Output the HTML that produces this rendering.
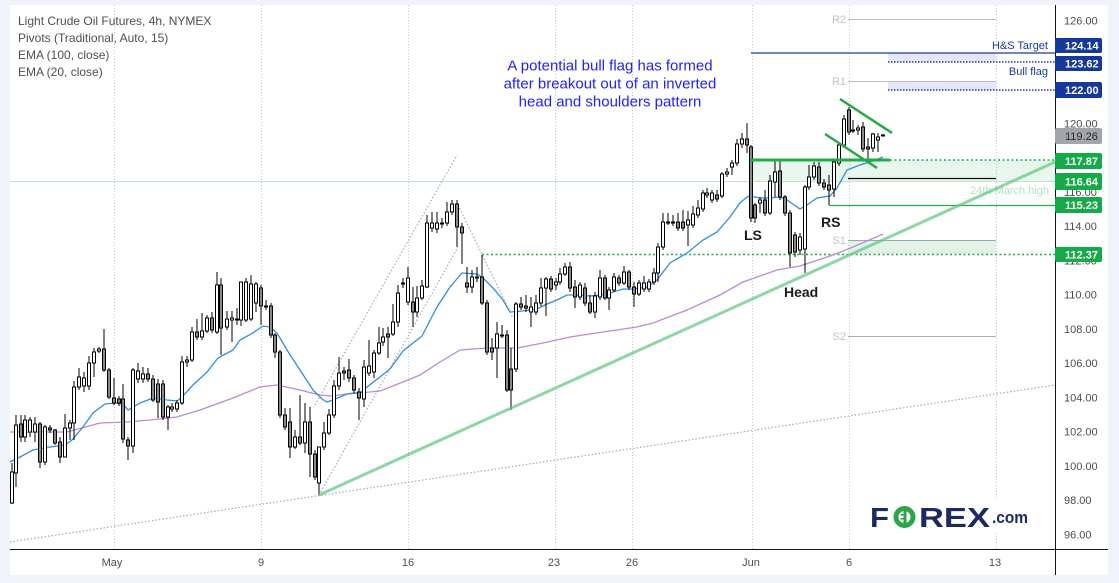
<!DOCTYPE html>
<html><head><meta charset="utf-8"><style>
html,body{margin:0;padding:0;background:#f0f3fa;}
svg{display:block;}
text{font-family:"Liberation Sans",Arial,sans-serif;}
</style></head><body>
<svg width="1119" height="583" viewBox="0 0 1119 583" xmlns="http://www.w3.org/2000/svg">
<rect width="1119" height="583" fill="#f0f3fa"/>
<rect x="10" y="5" width="1098" height="570" fill="#ffffff"/>

<!-- zones -->
<rect x="752" y="160" width="303" height="21" fill="#e9f6ed"/>
<rect x="848" y="240" width="148" height="14" fill="#e0f3e6"/>
<rect x="888" y="53" width="108" height="9" fill="#e4e7f6"/>
<rect x="888" y="81" width="108" height="9" fill="#e4e7f6"/>

<!-- vertical grid -->
<g stroke="#c4c7ce" stroke-width="1" stroke-dasharray="1 2">
<line x1="114.5" y1="5" x2="114.5" y2="549"/>
<line x1="261.5" y1="5" x2="261.5" y2="549"/>
<line x1="408.5" y1="5" x2="408.5" y2="549"/>
<line x1="555.5" y1="5" x2="555.5" y2="549"/>
<line x1="632.5" y1="5" x2="632.5" y2="549"/>
<line x1="752.5" y1="5" x2="752.5" y2="549"/>
<line x1="849.5" y1="5" x2="849.5" y2="549"/>
<line x1="996.5" y1="5" x2="996.5" y2="549"/>
</g>

<!-- 24th March high line -->
<line x1="10" y1="181.5" x2="1055" y2="181.5" stroke="#bfe5cb" stroke-width="1"/>
<text x="1049" y="194" font-size="11" fill="#b6e0c3" text-anchor="end">24th March high</text>

<!-- pivots -->
<g stroke-width="1">
<line x1="848" y1="19.5" x2="996" y2="19.5" stroke="#b8bbc3"/>
<line x1="848" y1="81.5" x2="996" y2="81.5" stroke="#b8bbc3"/>
<line x1="848" y1="240.5" x2="996" y2="240.5" stroke="#98aaa2"/>
<line x1="848" y1="336.5" x2="996" y2="336.5" stroke="#b2aac0"/>
</g>
<g font-size="11" fill="#c0c3cb" text-anchor="end">
<text x="846" y="23">R2</text>
<text x="846" y="85">R1</text>
<text x="846" y="244">S1</text>
<text x="846" y="340">S2</text>
</g>

<!-- navy target lines -->
<line x1="751" y1="53" x2="1055" y2="53" stroke="#1a3a9a" stroke-width="1.3"/>
<line x1="888" y1="62" x2="1055" y2="62" stroke="#1a3a9a" stroke-width="1.5" stroke-dasharray="1.5 1.5"/>
<line x1="888" y1="90" x2="1055" y2="90" stroke="#1a3a9a" stroke-width="1.5" stroke-dasharray="1.5 1.5"/>
<text x="1048" y="49" font-size="11" fill="#1a3a9a" text-anchor="end">H&amp;S Target</text>
<text x="1048" y="75" font-size="11" fill="#1a3a9a" text-anchor="end">Bull flag</text>

<!-- green levels -->
<line x1="890" y1="160" x2="1055" y2="160" stroke="#1fae45" stroke-width="1.5" stroke-dasharray="2 2.5"/>
<line x1="482" y1="254.5" x2="1055" y2="254.5" stroke="#1fae45" stroke-width="1.5" stroke-dasharray="2 2.5"/>
<line x1="829" y1="205.5" x2="1055" y2="205.5" stroke="#1fae45" stroke-width="1.3"/>
<line x1="848" y1="178.5" x2="996" y2="178.5" stroke="#111" stroke-width="1.2"/>

<!-- gray dotted lines -->
<g stroke="#a9a9a9" stroke-width="1.2" stroke-dasharray="1.5 2" fill="none">
<line x1="10" y1="542" x2="1055" y2="385"/>
<line x1="315" y1="405" x2="457" y2="155"/>
<line x1="319" y1="495" x2="458" y2="247"/>
<line x1="458" y1="205" x2="513" y2="318"/>
</g>

<!-- EMAs -->
<polyline fill="none" stroke="#b98ad8" stroke-width="1.3" points="10,432 67,432 100,423 127,422 150,420 177,417 200,410 233,398 260,387 277,385 300,390 320,395 333,396 353,393 370,392 380,391 403,382 420,375 440,362 460,350 487,348 517,348 543,343 570,337 603,332 637,327 653,323 687,310 720,295 743,282 777,270 800,266 833,255 853,247 883,234"/>
<polyline fill="none" stroke="#2e8fe0" stroke-width="1.3" points="10,462 20,457 33,450 50,447 65,445 72,440 83,427 93,413 105,404 115,403 123,404 128,410 140,403 153,398 167,400 177,401 182,397 193,385 207,372 218,358 233,350 240,340 253,333 263,326 270,327 277,333 287,350 300,370 313,390 322,399 327,402 333,400 347,394 360,393 367,387 380,377 390,369 403,351 422,336 437,307 450,287 462,273 477,274 483,278 493,288 503,300 510,312 523,311 537,309 547,304 557,300 567,295 577,295 590,296 600,295 610,293 623,289 633,289 647,287 657,280 670,263 687,253 703,240 717,232 730,217 740,203 747,197 750,196 760,198 770,198 780,197 787,200 800,209 807,205 817,198 830,196 837,188 847,170 860,165 873,161 883,157"/>

<!-- candles -->
<g id="wicks" stroke="#000" stroke-width="1"></g>
<g id="bodies" stroke="#000" stroke-width="1"></g>

<!-- trend line -->
<line x1="319" y1="495" x2="1055" y2="162" stroke="#5ec67e" stroke-opacity="0.7" stroke-width="3"/>

<!-- flag lines -->
<line x1="750" y1="160" x2="890" y2="160" stroke="#1fae45" stroke-width="3"/>
<line x1="840" y1="99" x2="892" y2="133" stroke="#27a844" stroke-width="2.5"/>
<line x1="825" y1="134" x2="877" y2="168" stroke="#27a844" stroke-width="2.5"/>

<!-- pattern labels -->
<g font-size="14" font-weight="bold" fill="#1a1a1a">
<text x="744" y="240">LS</text>
<text x="784" y="297">Head</text>
<text x="821" y="227">RS</text>
</g>

<!-- annotation -->
<g font-size="15" fill="#1f1fff" text-anchor="middle">
<text x="610" y="70.5">A potential bull flag has formed</text>
<text x="610" y="88.5">after breakout out of an inverted</text>
<text x="610" y="106.5">head and shoulders pattern</text>
</g>

<!-- legend -->
<g font-size="12" fill="#4f4f4f">
<text x="18" y="25">Light Crude Oil Futures, 4h, NYMEX</text>
<text x="18" y="42">Pivots (Traditional, Auto, 15)</text>
<text x="18" y="59">EMA (100, close)</text>
<text x="18" y="76">EMA (20, close)</text>
</g>

<!-- logo -->
<rect x="866" y="500" width="168" height="32" fill="#ffffff"/>
<g font-weight="bold" fill="#1c2a62">
<text x="870" y="527" font-size="28" textLength="19" lengthAdjust="spacingAndGlyphs">F</text>
<text x="919" y="527" font-size="28" textLength="71" lengthAdjust="spacingAndGlyphs">REX</text>
<text x="992" y="523" font-size="17" textLength="36" lengthAdjust="spacingAndGlyphs">.com</text>
</g>
<circle cx="904.5" cy="517" r="8.5" fill="none" stroke="#2ca548" stroke-width="5"/>
<rect x="903.5" y="511" width="3" height="12" fill="#2ca548"/>
<rect x="900.5" y="514" width="4" height="1.6" fill="#2ca548"/>
<rect x="900.5" y="518" width="4" height="1.6" fill="#2ca548"/>

<!-- axes -->
<line x1="1055.5" y1="5" x2="1055.5" y2="575" stroke="#131313" stroke-width="1"/>
<line x1="10" y1="549.5" x2="1108" y2="549.5" stroke="#131313" stroke-width="1"/>

<!-- y labels -->
<g font-size="11" fill="#4d4d4d">
<text x="1064" y="24.5">126.00</text>
<text x="1064" y="127.3">120.00</text>
<text x="1064" y="195.8">116.00</text>
<text x="1064" y="230">114.00</text>
<text x="1064" y="264.3">112.00</text>
<text x="1064" y="298.6">110.00</text>
<text x="1064" y="332.8">108.00</text>
<text x="1064" y="367">106.00</text>
<text x="1064" y="401.4">104.00</text>
<text x="1064" y="435.6">102.00</text>
<text x="1064" y="469.9">100.00</text>
<text x="1064" y="504.1">98.00</text>
<text x="1064" y="538.4">96.00</text>
</g>

<!-- badges -->
<g>
<rect x="1055" y="38" width="47" height="15" rx="2" fill="#15389b"/>
<rect x="1055" y="56" width="47" height="15" rx="2" fill="#15389b"/>
<rect x="1055" y="82" width="47" height="16" rx="2" fill="#15389b"/>
<rect x="1055" y="128" width="47" height="16" rx="2" fill="#a2a5ab"/>
<rect x="1055" y="153" width="47" height="16" rx="2" fill="#14aa48"/>
<rect x="1055" y="173" width="47" height="17" rx="2" fill="#14aa48"/>
<rect x="1055" y="197" width="47" height="16" rx="2" fill="#14aa48"/>
<rect x="1055" y="247" width="47" height="15" rx="2" fill="#14aa48"/>
</g>
<g font-size="11" font-weight="bold" fill="#ffffff">
<text x="1065" y="49.5">124.14</text>
<text x="1065" y="67.5">123.62</text>
<text x="1065" y="94">122.00</text>
<text x="1065" y="140" fill="#2a2a2a" font-weight="normal">119.26</text>
<text x="1065" y="165">117.87</text>
<text x="1065" y="185.5">116.64</text>
<text x="1065" y="209">115.23</text>
<text x="1065" y="258.5">112.37</text>
</g>

<!-- x labels -->
<g font-size="11" fill="#4d4d4d" text-anchor="middle">
<text x="112" y="566">May</text>
<text x="261" y="566">9</text>
<text x="408" y="566">16</text>
<text x="554" y="566">23</text>
<text x="632" y="566">26</text>
<text x="751" y="566">Jun</text>
<text x="849" y="566">6</text>
<text x="995" y="566">13</text>
</g>
</svg>
<script>
var C=[
[12,472,503,463,504,0],[16,425,473,415,487,0],[21,424,437,415,442,1],[25,420,437,415,442,0],[30,420,432,417,437,0],[35,424,432,417,442,0],[40,424,462,422,468,1],[45,427,462,425,465,0],[50,428,430,425,433,1],[55,430,443,429,445,1],[60,442,457,437,463,1],[65,428,457,414,457,0],[70,423,428,420,440,0],[74,387,423,381,440,0],[79,377,387,368,390,0],[84,378,386,372,392,0],[89,363,386,356,390,0],[94,352,363,348,377,0],[99,349,351,347,353,0],[104,349,370,329,372,1],[109,370,397,368,399,1],[114,398,403,378,405,1],[119,399,403,396,406,1],[123,399,439,384,443,1],[128,440,446,437,460,1],[133,370,446,368,453,0],[138,371,379,363,383,0],[143,374,379,367,383,0],[148,374,379,368,382,1],[153,379,400,375,402,1],[158,384,402,379,418,1],[163,384,417,380,420,1],[168,407,417,405,430,0],[172,407,409,403,412,0],[177,403,409,400,412,0],[182,362,403,356,405,0],[187,360,362,356,367,0],[192,332,360,327,362,0],[197,332,337,319,340,1],[202,331,337,313,340,0],[207,318,331,315,333,0],[212,318,330,312,333,1],[217,285,332,272,334,0],[221,285,328,278,355,1],[227,319,327,311,330,0],[232,318,320,311,342,0],[237,319,320,308,325,0],[241,282,320,282,326,0],[246,282,320,278,322,0],[251,284,319,275,321,0],[256,284,303,282,312,0],[261,288,306,285,325,1],[266,306,307,300,310,1],[271,306,335,303,338,1],[275,335,352,333,358,1],[280,352,415,350,418,1],[285,415,427,408,430,1],[290,422,447,408,458,1],[295,437,447,430,449,0],[300,437,443,395,445,1],[305,422,443,403,453,0],[310,422,454,407,477,1],[315,454,477,450,480,1],[319,447,483,447,495,0],[324,433,447,422,450,0],[329,415,433,409,435,0],[334,386,415,380,418,0],[339,373,386,357,390,0],[344,371,373,367,380,1],[349,370,378,359,382,1],[354,378,390,375,393,1],[359,392,398,388,420,1],[364,367,399,360,407,0],[369,366,373,340,376,0],[374,353,372,350,378,0],[379,343,353,327,355,0],[383,337,342,328,346,0],[388,334,337,327,358,1],[393,322,334,304,336,0],[398,293,322,285,327,0],[403,283,284,278,288,0],[408,278,302,267,305,0],[413,302,312,287,327,1],[417,298,312,286,317,0],[422,286,298,280,300,0],[427,223,287,215,288,0],[432,223,228,212,232,0],[437,223,229,212,233,0],[442,223,224,218,228,0],[447,212,223,202,226,0],[452,204,212,200,215,0],[457,204,227,200,247,1],[462,227,233,223,264,1],[467,283,287,267,293,1],[472,277,287,270,293,0],[477,277,278,267,282,0],[482,277,303,255,305,1],[487,303,352,300,355,1],[492,348,352,338,360,1],[497,334,348,322,378,0],[502,335,336,325,338,0],[507,335,390,330,392,1],[511,369,390,348,410,1],[516,304,369,302,372,0],[521,304,307,297,310,1],[526,306,308,295,312,1],[531,307,312,297,327,0],[536,303,312,295,315,0],[541,288,303,278,306,0],[546,279,288,277,316,0],[551,279,289,276,292,1],[556,282,285,278,290,0],[560,274,282,268,285,0],[565,267,274,263,276,0],[570,267,288,262,292,1],[575,287,297,280,308,1],[580,285,297,282,300,0],[585,288,303,283,306,1],[590,303,312,295,314,1],[595,296,312,292,318,0],[600,278,297,270,300,0],[605,278,298,275,300,1],[609,290,298,287,310,0],[614,277,290,273,292,0],[619,278,283,275,286,1],[624,272,283,266,285,0],[629,272,287,270,290,1],[634,287,294,282,307,1],[639,283,294,280,296,0],[644,283,289,276,292,0],[649,282,289,279,292,0],[654,273,282,268,285,0],[658,247,273,243,282,0],[663,222,247,213,250,0],[668,222,223,213,225,0],[673,222,223,215,226,0],[678,222,228,213,231,1],[683,222,228,210,231,1],[688,220,225,211,246,0],[693,214,225,206,228,0],[698,208,215,200,218,0],[703,193,209,190,212,0],[707,193,195,188,198,0],[712,193,200,190,203,0],[717,195,199,190,202,1],[722,174,196,172,198,0],[727,172,174,168,177,0],[732,163,167,160,175,0],[737,144,163,139,166,0],[742,139,144,133,148,0],[747,139,145,123,153,1],[751,147,218,145,222,1],[755,205,218,203,223,1],[760,200,203,197,213,0],[765,200,213,190,216,1],[770,181,213,175,215,0],[775,172,182,160,197,0],[780,171,197,160,200,1],[785,197,213,195,216,1],[790,213,253,210,267,1],[795,235,252,232,257,1],[800,237,250,233,255,0],[805,187,249,185,273,0],[809,177,187,165,190,0],[814,166,177,162,180,0],[819,167,183,162,186,1],[824,183,187,179,190,1],[829,185,190,175,205,1],[834,162,189,160,197,0],[839,145,163,142,166,0],[844,119,145,115,148,0],[849,110,132,107,135,1],[853,130,131,120,133,1],[858,128,130,125,135,0],[863,127,149,122,152,1],[868,147,149,138,160,1],[873,134,148,133,152,0],[878,137,140,133,152,0],[883,135,136,134,136,0]
];
var w='',b='';
for(var i=0;i<C.length;i++){
 var c=C[i],x=c[0],t=c[1],bo=c[2],h=c[3],l=c[4],k=c[5];
 w+='<line x1="'+x+'" y1="'+h+'" x2="'+x+'" y2="'+l+'"/>';
 var ht=Math.max(bo-t,1);
 b+='<rect x="'+(x-1.5)+'" y="'+t+'" width="3" height="'+ht+'" fill="'+(k?'#8a8a8a':'#ffffff')+'"/>';
}
document.getElementById('wicks').innerHTML=w;
document.getElementById('bodies').innerHTML=b;
</script>
</body></html>
